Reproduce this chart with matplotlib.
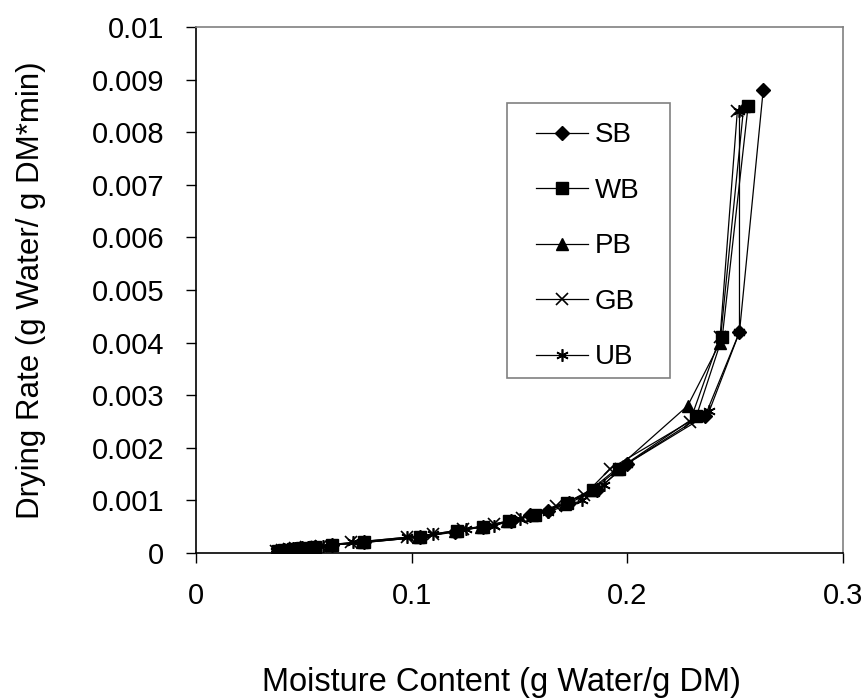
import matplotlib.pyplot as plt
from matplotlib.patches import Rectangle

plt.rcParams['font.family'] = ['Liberation Sans', 'DejaVu Sans']

# moisture content (x) and drying rate (y) per sample
sb_x = [0.263, 0.252, 0.236, 0.200, 0.186, 0.173, 0.163, 0.155, 0.146, 0.133, 0.120,
        0.104, 0.078, 0.063, 0.055, 0.049, 0.045, 0.041, 0.038]
sb_y = [0.0088, 0.0042, 0.0026, 0.0017, 0.0012, 0.00095, 0.0008, 0.00072, 0.0006, 0.0005,
        0.0004, 0.0003, 0.0002, 0.00015, 0.00012, 0.0001, 0.00008, 0.00006, 0.00004]

wb_x = [0.256, 0.244, 0.232, 0.196, 0.184, 0.172, 0.157, 0.145, 0.133, 0.121, 0.104,
        0.078, 0.063, 0.055, 0.049, 0.045, 0.041, 0.038]
wb_y = [0.0085, 0.0041, 0.0026, 0.0016, 0.0012, 0.00095, 0.00073, 0.0006, 0.0005, 0.00042,
        0.0003, 0.0002, 0.00015, 0.00012, 0.0001, 0.00008, 0.00006, 0.00004]

pb_x = [0.254, 0.243, 0.228, 0.195, 0.183, 0.171, 0.156, 0.144, 0.132, 0.120, 0.103,
        0.077, 0.062, 0.054, 0.048, 0.044, 0.040, 0.037]
pb_y = [0.0085, 0.0040, 0.0028, 0.0016, 0.0012, 0.00094, 0.00072, 0.0006, 0.0005, 0.00041,
        0.0003, 0.0002, 0.00015, 0.00012, 0.0001, 0.00008, 0.00006, 0.00004]

gb_x = [0.251, 0.243, 0.229, 0.192, 0.180, 0.167, 0.151, 0.138, 0.124, 0.110, 0.098,
        0.072, 0.058, 0.051, 0.046, 0.043, 0.040, 0.037]
gb_y = [0.0084, 0.0041, 0.0025, 0.0016, 0.0011, 0.0009, 0.00066, 0.00055, 0.00045, 0.00036,
        0.0003, 0.0002, 0.00014, 0.00011, 0.00009, 0.00007, 0.00005, 0.00004]

ub_x = [0.252, 0.252, 0.238, 0.200, 0.189, 0.179, 0.163, 0.150, 0.138, 0.125, 0.110,
        0.098, 0.073, 0.059, 0.052, 0.046, 0.043, 0.040, 0.037]
ub_y = [0.0084, 0.0042, 0.0027, 0.0017, 0.0013, 0.001, 0.00078, 0.00065, 0.00052, 0.00045,
        0.00036, 0.0003, 0.0002, 0.00014, 0.00011, 0.00009, 0.00007, 0.00005, 0.00004]

x_ticks = [0, 0.1, 0.2, 0.3]
x_labels = ['0', '0.1', '0.2', '0.3']
y_ticks = [0, 0.001, 0.002, 0.003, 0.004, 0.005, 0.006, 0.007, 0.008, 0.009, 0.01]
y_labels = ['0', '0.001', '0.002', '0.003', '0.004', '0.005', '0.006', '0.007',
            '0.008', '0.009', '0.01']

fig = plt.figure(figsize=(8.66, 6.98), dpi=100)
ax = fig.add_axes([196 / 866, 1 - 553 / 698, (843 - 196) / 866, (553 - 27) / 698])

series = [
    (sb_x, sb_y, 'SB', dict(marker='D', markersize=7)),
    (wb_x, wb_y, 'WB', dict(marker='s', markersize=8)),
    (pb_x, pb_y, 'PB', dict(marker='^', markersize=8)),
    (gb_x, gb_y, 'GB', dict(marker='x', markersize=8, markeredgewidth=1.2)),
    (ub_x, ub_y, 'UB', dict(marker=(6, 2, 0), markersize=9, markeredgewidth=1.2)),
]
for xs, ys, name, mk in series:
    ax.plot(xs, ys, color='black', linewidth=0.9, label=name,
            markerfacecolor='black', markeredgecolor='black', **mk)

ax.set_xlim(0, 0.3)
ax.set_ylim(0, 0.01)
ax.set_xticks(x_ticks)
ax.set_xticklabels(x_labels)
ax.set_yticks(y_ticks)
ax.set_yticklabels(y_labels)
ax.tick_params(direction='out', length=7, width=1, labelsize=21)
ax.tick_params(axis='y', pad=16)
ax.tick_params(axis='x', pad=14)

for s in ['left', 'bottom']:
    ax.spines[s].set_color('black')
    ax.spines[s].set_linewidth(1.2)
for s in ['top', 'right']:
    ax.spines[s].set_color('#808080')
    ax.spines[s].set_linewidth(1.2)

ax.set_ylabel('Drying Rate (g Water/ g DM*min)', fontsize=22.5)
ax.yaxis.set_label_coords((46 - 196) / 647, 0.5)
fig.text(501 / 866, 1 - 683 / 698, 'Moisture Content (g Water/g DM)', fontsize=23.5,
         ha='center', va='center')

# legend box drawn separately so its padding matches the reference
fig.patches.append(Rectangle((507 / 866, 1 - 378 / 698), 163 / 866, 275 / 698,
                             transform=fig.transFigure, fill=False,
                             edgecolor='#808080', linewidth=1.2))
leg = fig.legend(loc='upper left', bbox_to_anchor=(517 / 866, 1 - 103 / 698),
                 fontsize=20, frameon=False, handlelength=1.85,
                 handletextpad=0.25, labelspacing=1.06, borderpad=0.7,
                 borderaxespad=0)

fig.savefig('out.png', dpi=100)
